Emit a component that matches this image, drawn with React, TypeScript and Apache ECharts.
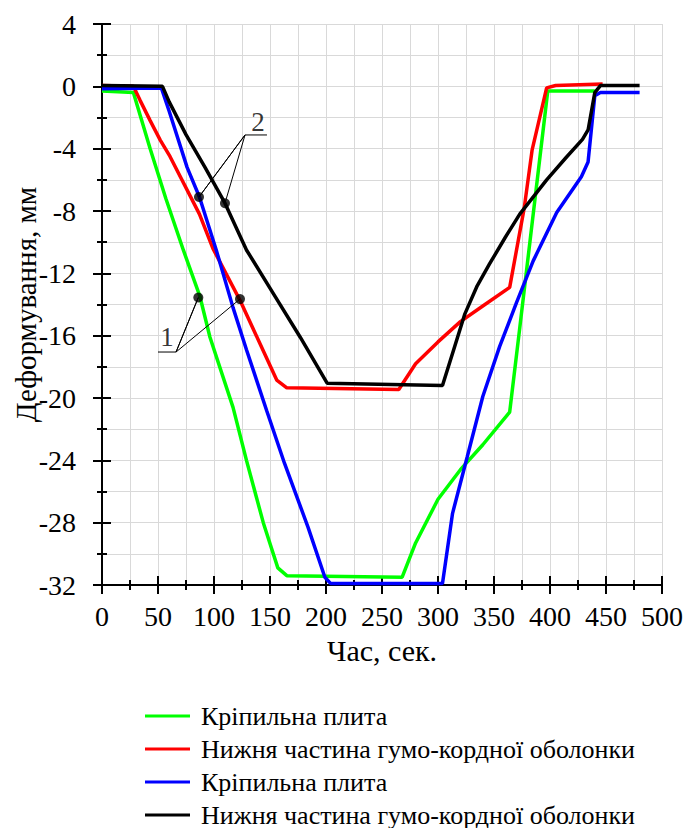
import React, { useEffect, useRef } from "react";
import * as echarts from "echarts";

const FONT = "Liberation Serif";

const xTicks = { min: 0, max: 500, interval: 50 };
const yTicks = { min: -32, max: 4, interval: 4 };

const seriesNames = [
  "Кріпильна плита|1",
  "Нижня частина гумо-кордної оболонки|1",
  "Кріпильна плита|2",
  "Нижня частина гумо-кордної оболонки|2",
];
const seriesColors = ["#00ff00", "#ff0000", "#0000ff", "#000000"];

const greenData: [number, number][] = [
  [0, -0.3], [28, -0.4], [43, -4], [57, -7.2], [72.6, -10.5], [87.5, -13.5],
  [96.4, -16.1], [117, -20.6], [129, -24], [144, -28], [157, -30.9], [165, -31.4],
  [268, -31.5], [280, -29.3], [300, -26.5], [320, -24.6], [340, -23], [364, -20.9],
  [373, -15.5], [398, -0.3], [440, -0.3],
];
const redData: [number, number][] = [
  [0, 0.05], [28, 0], [34, -0.9], [43, -2.2], [52, -3.45], [60.7, -4.5], [87, -8.2],
  [99, -10.4], [123, -13.7], [141, -16.5], [156, -18.85], [165, -19.35], [265, -19.45],
  [280, -17.8], [300, -16.4], [320, -15.1], [340, -14.1], [364, -12.9], [377, -7.8],
  [384, -4.1], [397, -0.1], [405, 0.05], [447, 0.15],
];
const blueData: [number, number][] = [
  [0, -0.15], [53, -0.1], [60, -1.6], [76, -5.2], [87, -7.1], [102, -10.5], [117, -14.2],
  [129, -16.9], [147, -20.8], [163, -24.2], [184, -28.3], [199, -31.5], [204, -31.9],
  [304, -31.9], [313, -27.4], [326, -23.8], [340, -19.9], [355, -16.7], [370, -13.9],
  [385, -11.2], [406, -8.1], [428, -5.8], [434, -4.85], [440, -0.6], [445, -0.4], [480, -0.4],
];
const blackData: [number, number][] = [
  [0, 0.05], [54, 0], [60, -1], [75, -3.1], [92, -5.2], [109.8, -7.5], [129, -10.5],
  [153, -13.3], [177, -16.1], [201, -19.05], [304, -19.2], [314, -16.9], [324, -14.6],
  [335, -12.8], [346, -11.4], [360, -9.7], [373, -8.2], [397, -6.0], [414, -4.6],
  [429, -3.4], [434, -2.8], [440, -0.4], [445, 0.05], [480, 0.05],
];

// annotation "2": leader lines and dots
const leader2: [number, number][] = [[147.3, -3.12], [127.7, -3.12], [86.6, -7.1], [127.7, -3.12], [109.8, -7.5]];
const dots2: [number, number][] = [[86.6, -7.1], [109.8, -7.5]];
const label2: [number, number] = [139.3, -2.3];
// annotation "1"
const leader1: [number, number][] = [[50, -17.05], [66.1, -17.05], [86, -13.55], [66.1, -17.05], [123.2, -13.65]];
const dots1: [number, number][] = [[86, -13.55], [123.2, -13.65]];
const label1: [number, number] = [58, -16.1];

const allData = [greenData, redData, blueData, blackData];

export default function App() {
  const ref = useRef<HTMLDivElement>(null);
  useEffect(() => {
    if (!ref.current) return;
    const chart = echarts.init(ref.current, undefined, { renderer: "svg" });
    const tickLine = { color: "#000", width: 2 };
    const grey = { color: "#d9d9d9", width: 1 };
    const mainX = {
      type: "value", ...xTicks, position: "bottom",
      axisLine: { show: true, onZero: false, lineStyle: { color: "#000", width: 2 } },
      axisTick: { show: true, length: 9, lineStyle: tickLine },
      minorTick: { show: true, splitNumber: 2, length: 5, lineStyle: tickLine },
      splitLine: { show: true, lineStyle: grey },
      minorSplitLine: { show: true, lineStyle: grey },
      axisLabel: { color: "#000", fontFamily: FONT, fontSize: 28, margin: 17 },
      name: "Час, сек.", nameLocation: "middle", nameGap: 50, nameMoveOverlap: false,
      nameTextStyle: { color: "#000", fontFamily: FONT, fontSize: 30 },
    };
    const innerX = {
      type: "value", ...xTicks, position: "bottom",
      axisLine: { show: false, onZero: false },
      axisTick: { show: true, inside: true, length: 9, lineStyle: tickLine },
      minorTick: { show: true, splitNumber: 2, length: 5, lineStyle: tickLine },
      splitLine: { show: false }, minorSplitLine: { show: false },
      axisLabel: { show: false },
    };
    const mainY = {
      type: "value", ...yTicks, position: "left",
      axisLine: { show: true, onZero: false, lineStyle: { color: "#000", width: 2 } },
      axisTick: { show: true, length: 9, lineStyle: tickLine },
      minorTick: { show: true, splitNumber: 2, length: 5, lineStyle: tickLine },
      splitLine: { show: true, lineStyle: grey },
      minorSplitLine: { show: true, lineStyle: grey },
      axisLabel: { color: "#000", fontFamily: FONT, fontSize: 28, margin: 26 },
      name: "Деформування, мм", nameLocation: "middle", nameGap: 62, nameMoveOverlap: false,
      nameTextStyle: { color: "#000", fontFamily: FONT, fontSize: 29 },
    };
    const innerY = {
      type: "value", ...yTicks, position: "left",
      axisLine: { show: false, onZero: false },
      axisTick: { show: true, inside: true, length: 9, lineStyle: tickLine },
      minorTick: { show: true, splitNumber: 2, length: 5, lineStyle: tickLine },
      splitLine: { show: false }, minorSplitLine: { show: false },
      axisLabel: { show: false },
    };
    const dataSeries = allData.map((d, i) => ({
      type: "line", name: seriesNames[i], data: d, xAxisIndex: 0, yAxisIndex: 0,
      symbol: "none", showSymbol: false, color: seriesColors[i],
      lineStyle: { color: seriesColors[i], width: 3.5 }, z: 2 + i,
    }));
    const thin = (d: [number, number][]) => ({
      type: "line", name: "leader", data: d, symbol: "none", silent: true,
      lineStyle: { color: "#000", width: 1 }, z: 10,
    });
    const dots = (d: [number, number][]) => ({
      type: "scatter", name: "dots", data: d, symbol: "circle", symbolSize: 10,
      itemStyle: { color: "#000" }, silent: true, z: 11,
    });
    const lbl = (p: [number, number], t: string) => ({
      type: "scatter", name: "lbl", data: [p], symbolSize: 0, silent: true, z: 12,
      label: { show: true, position: "inside", formatter: t, color: "#000", fontFamily: FONT, fontSize: 27 },
    });
    chart.setOption({
      animation: false,
      grid: { left: 102, top: 24, width: 560, height: 561, outerBoundsMode: "none", containLabel: false },
      xAxis: [mainX, innerX],
      yAxis: [mainY, innerY],
      legend: {
        data: seriesNames, orient: "vertical", left: 145, top: 703, height: 200, padding: 0,
        icon: "rect", itemWidth: 45, itemHeight: 3, itemGap: 7,
        formatter: (n: string) => n.split("|")[0],
        textStyle: { color: "#000", fontFamily: FONT, fontSize: 26, lineHeight: 26, padding: [0, 0, 0, 6] },
      },
      series: [
        ...dataSeries,
        thin(leader2), thin(leader1), dots(dots2), dots(dots1),
        lbl(label2, "2"), lbl(label1, "1"),
      ],
    });
    return () => chart.dispose();
  }, []);
  return <div ref={ref} style={{ position: "absolute", left: 0, top: 0, width: 683, height: 828 }} />;
}
